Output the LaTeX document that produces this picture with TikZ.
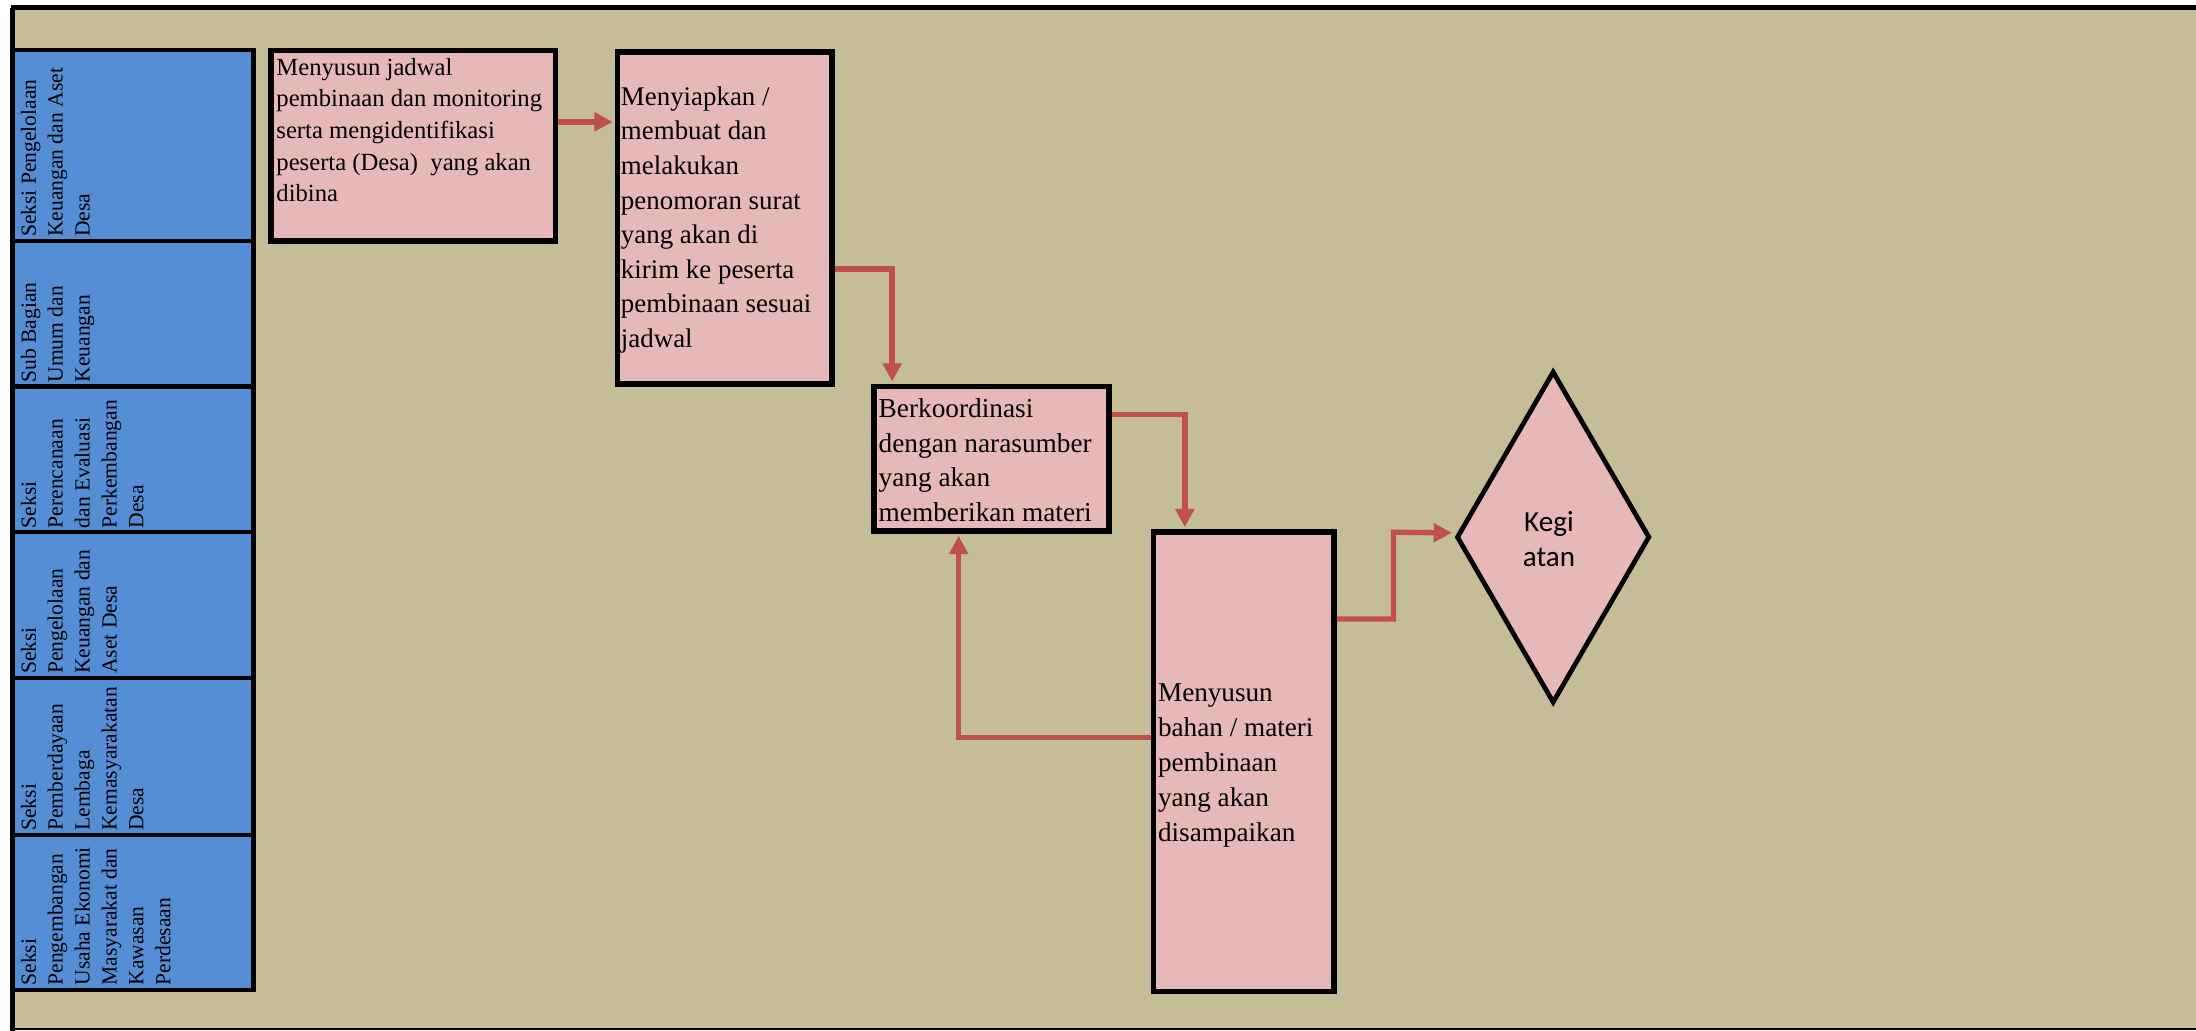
\documentclass[tikz,border=0pt]{standalone}
\usepackage{fontspec}
\setmainfont{Liberation Serif}
\newfontfamily\calib{Carlito}
\usetikzlibrary{shapes.geometric,arrows.meta}
\definecolor{bgc}{RGB}{196,189,151}
\definecolor{lanec}{RGB}{85,142,213}
\definecolor{pinkc}{RGB}{230,185,184}
\definecolor{arrc}{RGB}{192,80,77}
\tikzset{
  lanebox/.style={draw=black, line width=1.5pt, fill=lanec, inner sep=0pt, minimum width=86pt},
  lanetxt/.style={rotate=90, anchor=north west, inner sep=0pt, align=left,
    font=\fontsize{7.7pt}{9.6pt}\selectfont},
  procbox/.style={draw=black, line width=2pt, fill=pinkc, inner sep=0pt},
  boxtxt/.style={anchor=north west, inner sep=0pt, align=left},
  decbox/.style={diamond, draw=black, line width=1.7pt, fill=pinkc, inner sep=0pt},
  flow/.style={draw=arrc, line width=1.9pt, -{Triangle[length=6.5pt,width=6.5pt]}, shorten >=0.8pt}
}
\begin{document}
\begin{tikzpicture}[x=0.5pt,y=-0.5pt]
\useasboundingbox (0,0) rectangle (1568,736);
% frame
\fill[bgc] (8,5) rectangle (1568,735);
\draw[line width=0.7pt] (9,734.6) -- (1568,734.6);
\draw[line width=2pt] (9,736) -- (9,5.4);
\draw[line width=1.8pt] (8,5.4) -- (1568,5.4);
% lanes
\node[lanebox, minimum height=68.25pt] (l1) at (95,103.75) {};
\node[lanebox, minimum height=52pt] (l2) at (95,224) {};
\node[lanebox, minimum height=52pt] (l3) at (95,328) {};
\node[lanebox, minimum height=52pt] (l4) at (95,432) {};
\node[lanebox, minimum height=56pt] (l5) at (95,540) {};
\node[lanebox, minimum height=55.5pt] (l6) at (95,651.5) {};
\node[lanetxt] (lt1) at (14.5,169.5) {Seksi Pengelolaan\\Keuangan dan Aset\\Desa};
\node[lanetxt] (lt2) at (14.5,273.5) {Sub Bagian\\Umum dan\\Keuangan};
\node[lanetxt] (lt3) at (14.5,377.5) {Seksi\\Perencanaan\\dan Evaluasi\\Perkembangan\\Desa};
\node[lanetxt] (lt4) at (14.5,481.5) {Seksi\\Pengelolaan\\Keuangan dan\\Aset Desa};
\node[lanetxt] (lt5) at (14.5,593.5) {Seksi\\Pemberdayaan\\Lembaga\\Kemasyarakatan\\Desa};
\node[lanetxt] (lt6) at (14.5,704) {Seksi\\Pengembangan\\Usaha Ekonomi\\Masyarakat dan\\Kawasan\\Perdesaan};
% process boxes
\node[procbox, minimum width=101.5pt, minimum height=68pt] (b1) at (295,104) {};
\node[procbox, minimum width=76.5pt, minimum height=118.5pt] (b2) at (517.5,155.5) {};
\node[procbox, minimum width=84pt, minimum height=51.5pt] (b3) at (708,327.5) {};
\node[procbox, minimum width=64.5pt, minimum height=164pt] (b4) at (888,544) {};
\node[decbox, minimum width=69pt, minimum height=118.5pt] (d1) at (1109,383.5) {};
% texts
\node[boxtxt, font=\fontsize{8.8pt}{11.3pt}\selectfont] (t1) at (197,41) {Menyusun jadwal\\pembinaan dan monitoring\\serta mengidentifikasi\\peserta (Desa)\ \ yang akan\\dibina};
\node[boxtxt, font=\fontsize{9.6pt}{12.35pt}\selectfont] (t2) at (443,61.5) {Menyiapkan /\\membuat dan\\melakukan\\penomoran surat\\yang akan di\\kirim ke peserta\\pembinaan sesuai\\jadwal};
\node[boxtxt, font=\fontsize{9.75pt}{12.3pt}\selectfont] (t3) at (627,284.5) {Berkoordinasi\\dengan narasumber\\yang akan\\memberikan materi};
\node[boxtxt, font=\fontsize{9.7pt}{12.45pt}\selectfont] (t4) at (826.5,488) {Menyusun\\bahan / materi\\pembinaan\\yang akan\\disampaikan};
\node[align=center, inner sep=0pt, font=\calib\fontsize{10.4pt}{12.45pt}\selectfont] (t5) at (1106,385) {Kegi\\atan};
% connectors
\draw[flow] (b1.east |- 0,87) -- (b2.west |- 0,87);
\draw[flow] (b2.east |- 0,192) -| (b3.north -| 637,0);
\draw[flow] (b3.east |- 0,296) -| (b4.north -| 846,0);
\draw[flow] (b4.west |- 0,526.5) -| (b3.south -| 684.5,0);
\draw[flow] (b4.east |- 0,442) -| (995,380) -- ([yshift=1.5pt]d1.west);
\end{tikzpicture}
\end{document}
